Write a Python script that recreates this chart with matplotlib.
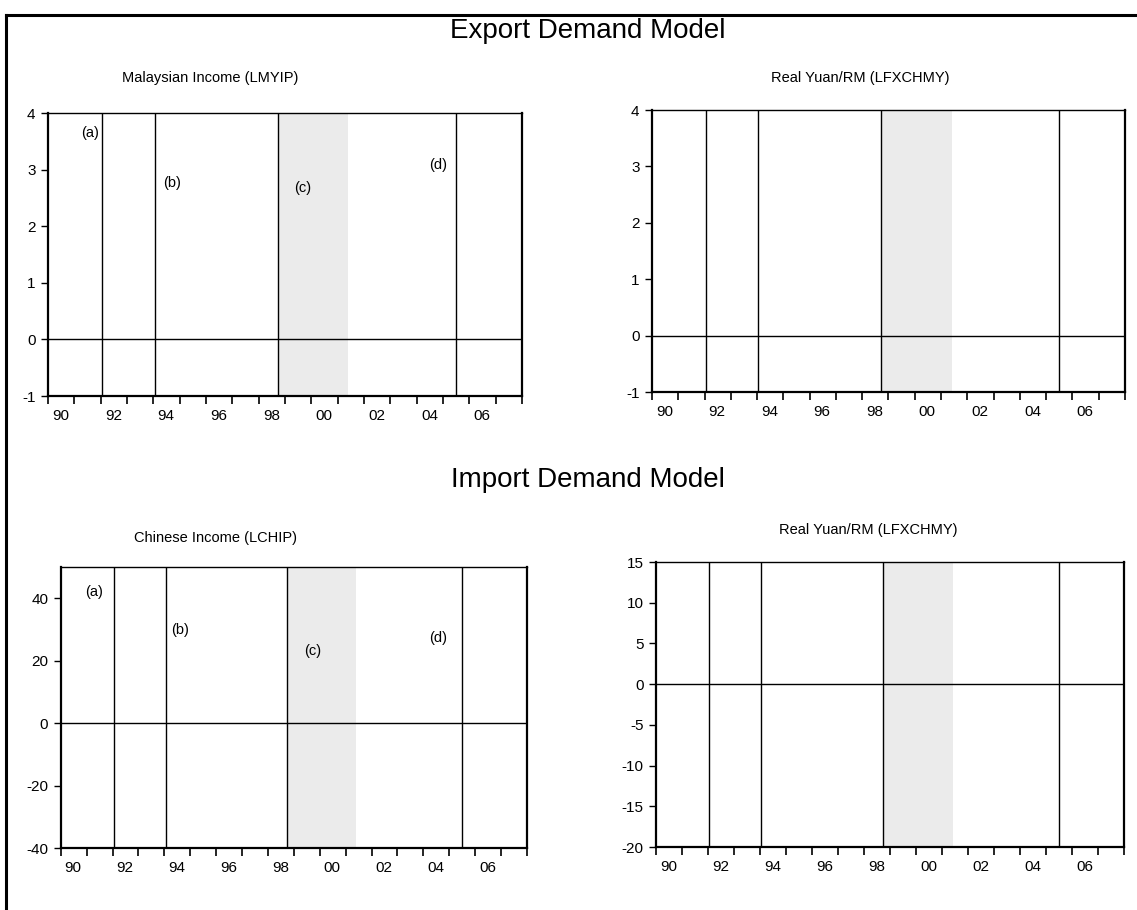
import matplotlib
matplotlib.use("Agg")
import matplotlib.pyplot as plt
from matplotlib.lines import Line2D

plt.rcParams['font.family'] = ['Liberation Sans', 'DejaVu Sans']
plt.rcParams['axes.unicode_minus'] = False

# ---- data ----
break_dates = [1992.05, 1994.05, 1998.72, 2005.5]
shade_span = (1998.72, 2001.4)
year_ticks = list(range(1990, 2009))
year_labels = ["90", "92", "94", "96", "98", "00", "02", "04", "06"]
label_years = [1990, 1992, 1994, 1996, 1998, 2000, 2002, 2004, 2006]

panel_titles = ["Malaysian Income (LMYIP)", "Real Yuan/RM (LFXCHMY)",
                "Chinese Income (LCHIP)", "Real Yuan/RM (LFXCHMY)"]
panel_ylims = [(-1, 4), (-1, 4), (-40, 50), (-20, 15)]
panel_yticks = [[-1, 0, 1, 2, 3, 4], [-1, 0, 1, 2, 3, 4],
                [-40, -20, 0, 20, 40], [-20, -15, -10, -5, 0, 5, 10, 15]]
annot_labels = ["(a)", "(b)", "(c)", "(d)"]
annot_x_top = [1991.6, 1994.7, 1999.66, 2004.83]
annot_y_top = [3.65, 2.77, 2.68, 3.08]
annot_x_bot = [1991.3, 1994.6, 1999.73, 2004.55]
annot_y_bot = [41.9, 29.7, 23.2, 27.4]

fig = plt.figure(figsize=(11.37, 9.10), dpi=100)

positions = [
    [0.0422, 0.5648, 0.4170, 0.3110],
    [0.5734, 0.5692, 0.4160, 0.3099],
    [0.0534, 0.0681, 0.4101, 0.3088],
    [0.5770, 0.0692, 0.4120, 0.3132],
]
title_xy = [(210, 78), (860, 78), (215, 538), (868, 530)]

for i, pos in enumerate(positions):
    ax = fig.add_axes(pos)
    ax.set_xlim(1990, 2008)
    ax.set_ylim(*panel_ylims[i])
    ax.axvspan(shade_span[0], shade_span[1], color='#EBEBEB', lw=0, zorder=0)
    for d in break_dates:
        ax.axvline(d, color='black', lw=1.0, zorder=2)
    ax.axhline(0, color='black', lw=1.0, zorder=2)
    ax.set_xticks(year_ticks)
    ax.set_xticklabels([])
    ax.set_xticks([y + 0.48 for y in label_years], minor=True)
    ax.set_xticklabels(year_labels, minor=True)
    ax.tick_params(axis='x', which='major', direction='out', length=6, width=1.2, color='black')
    ax.tick_params(axis='x', which='minor', length=0, pad=9, labelsize=11)
    ax.set_yticks(panel_yticks[i])
    ax.tick_params(axis='y', which='major', direction='out', length=5, width=1, labelsize=11, pad=4)
    for s in ['left', 'bottom', 'right']:
        ax.spines[s].set_linewidth(1.6)
    ax.spines['top'].set_linewidth(1.0)
    tx, ty = title_xy[i]
    fig.text(tx / 1137, 1 - ty / 910, panel_titles[i], ha='center', va='center', fontsize=10.5)
    if i == 0:
        for lab, x, y in zip(annot_labels, annot_x_top, annot_y_top):
            ax.text(x, y, lab, ha='center', va='center', fontsize=10.5)
    if i == 2:
        for lab, x, y in zip(annot_labels, annot_x_bot, annot_y_bot):
            ax.text(x, y, lab, ha='center', va='center', fontsize=10.5)

fig.text(588 / 1137, 1 - 31 / 910, "Export Demand Model", ha='center', va='center', fontsize=20)
fig.text(588 / 1137, 1 - 480 / 910, "Import Demand Model", ha='center', va='center', fontsize=20)

# frame around the figure (top and left only visible)
fig.add_artist(Line2D([6 / 1137, 1.0], [1 - 15 / 910, 1 - 15 / 910], transform=fig.transFigure, color='black', lw=2.2))
fig.add_artist(Line2D([6 / 1137, 6 / 1137], [0.0, 1 - 15 / 910], transform=fig.transFigure, color='black', lw=2.2))

fig.savefig("out.png", dpi=100)
